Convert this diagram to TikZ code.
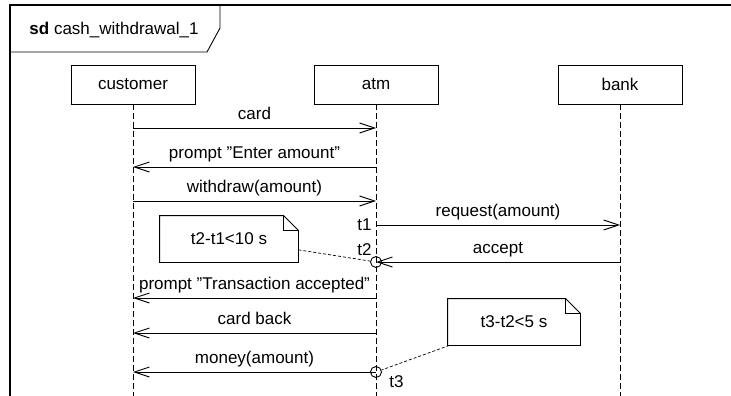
\documentclass[tikz,border=0pt]{standalone}
\usepackage{fontspec}
\setmainfont{Liberation Sans}
\usetikzlibrary{arrows.meta}

\begin{document}
\begin{tikzpicture}[x=1pt,y=-1pt,
  font=\fontsize{17}{20}\selectfont,
  line width=0.9pt,
  lifebox/.style={draw, fill=white, minimum width=124pt, minimum height=39pt, inner sep=0pt},
  lifeline/.style={dash pattern=on 6pt off 3pt, line width=0.8pt},
  msg/.style={-{Straight Barb[length=15pt,width=10pt]}},
  mlabel/.style={anchor=base, inner sep=0pt, yshift=9pt},
  tlabel/.style={anchor=base east, inner sep=0pt},
  notebody/.style={inner sep=0pt, minimum height=46pt},
  tick/.style={circle, draw, minimum size=11pt, inner sep=0pt},
  notelink/.style={dash pattern=on 3pt off 2pt, line width=0.7pt, black}]

\useasboundingbox (0,0) rectangle (731,396);
\clip (0,0) rectangle (731,396);

% interaction frame and its name tab
\draw[line width=1.2pt] (10,400) -- (10,5) -- (735,5);
\draw (10,52) -- (207,52) -- (220,28) -- (220,5);
\node[anchor=base west, inner sep=0pt] (title) at (29,35) {\textbf{sd} cash\_withdrawal\_1};

% participants
\node[lifebox] (customer) at (133,84.5) {customer};
\node[lifebox] (atm)      at (376,84.5) {atm};
\node[lifebox] (bank)     at (620,84.5) {bank};

\coordinate (customer-end) at (133,400);
\coordinate (atm-end)      at (376,400);
\coordinate (bank-end)     at (620,400);
\draw[lifeline] (customer.south) -- (customer-end);
\draw[lifeline] (atm.south)      -- (atm-end);
\draw[lifeline] (bank.south)     -- (bank-end);

% message end points on the lifelines
\coordinate (cu1) at (133,128); \coordinate (at1) at (376,128);
\coordinate (cu2) at (133,167); \coordinate (at2) at (376,167);
\coordinate (cu3) at (133,201); \coordinate (at3) at (376,201);
\coordinate (at4) at (376,225); \coordinate (ba4) at (620,225);
\coordinate (at5) at (376,262); \coordinate (ba5) at (620,262);
\coordinate (cu6) at (133,298); \coordinate (at6) at (376,298);
\coordinate (cu7) at (133,333); \coordinate (at7) at (376,333);
\coordinate (cu8) at (133,372); \coordinate (at8) at (376,372);

% messages
\draw[msg] (cu1) -- node[mlabel] {card} (at1);
\draw[msg] (at2) -- node[mlabel] {prompt ”Enter amount”} (cu2);
\draw[msg] (cu3) -- node[mlabel] {withdraw(amount)} (at3);
\draw[msg] (at4) -- node[mlabel] {request(amount)} (ba4);
\draw[msg] (ba5) -- node[mlabel] {accept} (at5);
\draw[msg] (at6) -- node[mlabel] {prompt ”Transaction accepted”} (cu6);
\draw[msg] (at7) -- node[mlabel] {card back} (cu7);
\draw[msg] (at8) -- node[mlabel] {money(amount)} (cu8);

% time observations
\node[tlabel] (t1) at (372,230) {t1};
\node[tlabel] (t2) at (372,255) {t2};
\node[tick] (t2c) at (at5) {};
\node[tick] (t3c) at (at8) {};
\node[anchor=base west, inner sep=0pt] (t3) at (389,387) {t3};

% duration constraints as notes
\node[notebody, minimum width=138pt] (n1) at (229,239) {t2-t1<10 s};
\node[notebody, minimum width=132pt] (n2) at (514,322) {t3-t2<5 s};
\foreach \n in {n1,n2}{
  \draw (\n.north west) -- ([xshift=-15pt]\n.north east)
        -- ([yshift=-15pt]\n.north east) -- (\n.south east)
        -- (\n.south west) -- cycle;
  \draw ([xshift=-15pt]\n.north east) |- ([yshift=-15pt]\n.north east);
}
\draw[notelink] (n1) -- (t2c);
\draw[notelink] (n2) -- (t3c);
\end{tikzpicture}
\end{document}
